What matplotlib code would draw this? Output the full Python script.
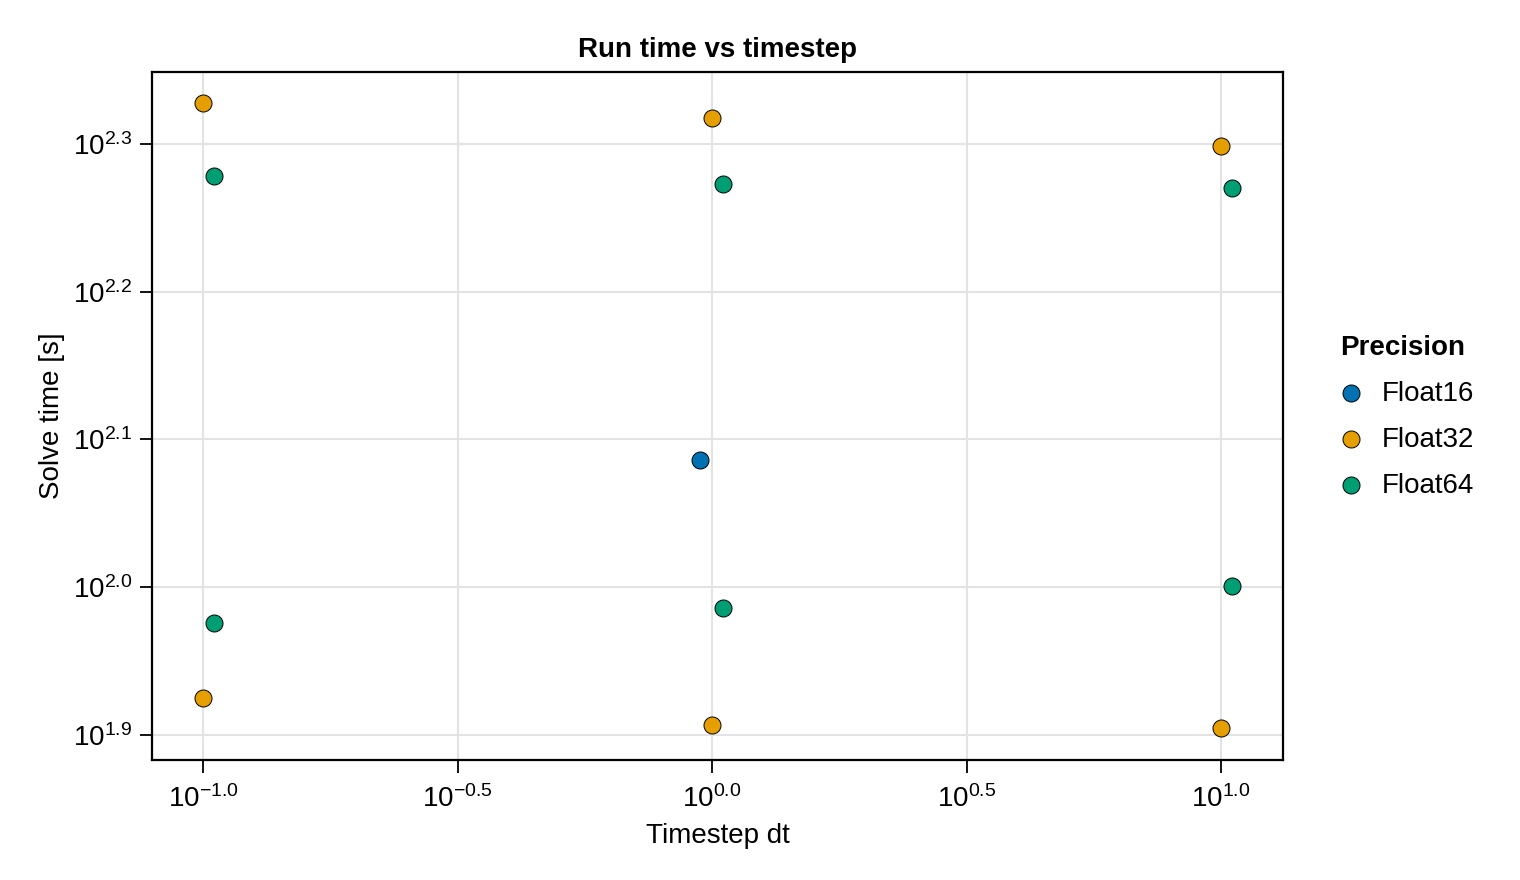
import numpy as np
import matplotlib
matplotlib.use("Agg")
import matplotlib.pyplot as plt
from matplotlib.ticker import FixedLocator, FixedFormatter, NullLocator

plt.rcParams['font.family'] = ['Liberation Sans', 'DejaVu Sans']
plt.rcParams['mathtext.fontset'] = 'custom'
plt.rcParams['mathtext.rm'] = 'Liberation Sans'
plt.rcParams['mathtext.it'] = 'Liberation Sans'
plt.rcParams['mathtext.bf'] = 'Liberation Sans:bold'

# ---- data ----
precisions = ["Float16", "Float32", "Float64"]
colors = ["#0072B2", "#E69F00", "#009E73"]

f16_dt = [1.0]
f16_time = [121.9]

f32_dt = [0.1, 0.1, 1.0, 1.0, 10.0, 10.0]
f32_time = [212.7, 84.1, 207.8, 80.7, 198.9, 80.3]

f64_dt = [0.1, 0.1, 1.0, 1.0, 10.0, 10.0]
f64_time = [189.8, 94.6, 187.5, 96.8, 186.3, 100.2]

x_tick_exps = [-1.0, -0.5, 0.0, 0.5, 1.0]
y_tick_exps = [1.9, 2.0, 2.1, 2.2, 2.3]

# dodge offsets in log10 decades (visual grouping)
dodge = [-0.0236, 0.0, 0.0216]

fig = plt.figure(figsize=(15.2, 8.8), dpi=100)
ax = fig.add_axes([0.1, 0.13636, 0.7441, 0.78182])

series = [(f16_dt, f16_time), (f32_dt, f32_time), (f64_dt, f64_time)]
for (dts, ts), name, c, d in zip(series, precisions, colors, dodge):
    xs = np.array(dts) * 10 ** d
    ax.scatter(xs, ts, s=150, color=c, edgecolors='black', linewidths=0.7,
               label=name, zorder=3)

ax.set_xscale('log')
ax.set_yscale('log')
ax.set_xlim(10 ** -1.1002, 10 ** 1.1218)
ax.set_ylim(10 ** 1.8831, 10 ** 2.3487)

ax.xaxis.set_major_locator(FixedLocator([10 ** e for e in x_tick_exps]))
ax.xaxis.set_major_formatter(FixedFormatter(
    [r'$10^{%s}$' % (('%.1f' % e).replace('-', '\u2212')) for e in x_tick_exps]))
ax.yaxis.set_major_locator(FixedLocator([10 ** e for e in y_tick_exps]))
ax.yaxis.set_major_formatter(FixedFormatter(
    [r'$10^{%.1f}$' % e for e in y_tick_exps]))
ax.xaxis.set_minor_locator(NullLocator())
ax.yaxis.set_minor_locator(NullLocator())

ax.tick_params(axis='both', which='major', labelsize=20, length=9, width=1.3,
               direction='out', color='black')
ax.tick_params(axis='x', pad=9)
ax.tick_params(axis='y', pad=5)
ax.grid(True, color='#e3e3e3', linewidth=1.5, zorder=0)
ax.set_axisbelow(True)
for sp in ax.spines.values():
    sp.set_linewidth(1.6)
    sp.set_color('black')

ax.set_title("Run time vs timestep", fontsize=20, fontweight='bold', pad=11)
ax.set_xlabel("Timestep dt", fontsize=20, labelpad=7)
ax.set_ylabel("Solve time [s]", fontsize=20, labelpad=6)

leg = ax.legend(title="Precision", loc='center left',
                bbox_to_anchor=(1.0282, 0.499),
                frameon=False, fontsize=20, title_fontsize=20,
                handlelength=0.8, handletextpad=0.72, labelspacing=0.72,
                markerscale=1.0, borderpad=0.4)
leg.get_title().set_fontweight('bold')
leg._legend_box.align = "left"

fig.savefig("out.png", dpi=100, facecolor='white')
